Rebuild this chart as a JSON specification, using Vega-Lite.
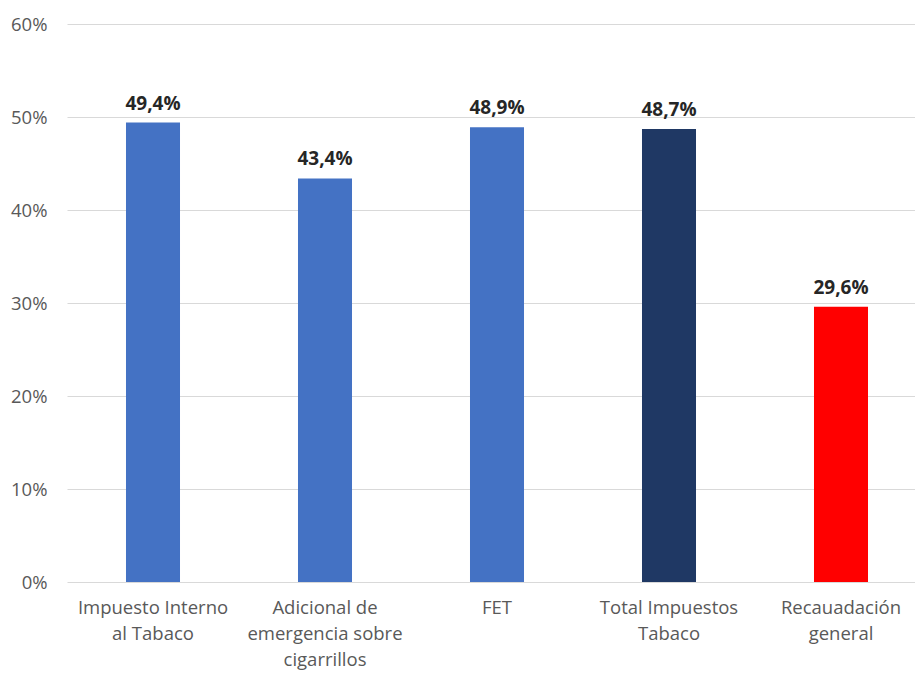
{
  "$schema": "https://vega.github.io/schema/vega-lite/v6.json",
  "width": 860,
  "height": 558,
  "autosize": "none",
  "padding": {"left": 67, "top": 24, "right": 0, "bottom": 91},
  "background": "white",
  "config": {
    "view": {"stroke": null},
    "locale": {"number": {"decimal": ",", "thousands": ".", "grouping": [3], "currency": ["", " €"]}}
  },
  "data": {
    "values": [
      {"cat": "Impuesto Interno|al Tabaco", "value": 0.494, "color": "#4472C4"},
      {"cat": "Adicional de|emergencia sobre|cigarrillos", "value": 0.434, "color": "#4472C4"},
      {"cat": "FET", "value": 0.489, "color": "#4472C4"},
      {"cat": "Total Impuestos|Tabaco", "value": 0.487, "color": "#1F3864"},
      {"cat": "Recauadación|general", "value": 0.296, "color": "#FF0000"}
    ]
  },
  "encoding": {
    "x": {
      "field": "cat", "type": "nominal", "sort": null,
      "scale": {"paddingInner": 0.686, "paddingOuter": 0.343},
      "axis": {
        "title": null, "labelAngle": 0, "domain": false, "ticks": false,
        "labelExpr": "split(datum.label, '|')",
        "labelFont": "Open Sans", "labelFontSize": 18.5, "labelColor": "#595959",
        "labelLineHeight": 26, "labelPadding": 16, "labelBaseline": "top"
      }
    },
    "y": {
      "field": "value", "type": "quantitative",
      "scale": {"domain": [0, 0.6], "nice": false},
      "axis": {
        "title": null, "format": ".0%", "values": [0, 0.1, 0.2, 0.3, 0.4, 0.5, 0.6],
        "labelOverlap": false,
        "domain": false, "ticks": false, "labelPadding": 20,
        "labelFont": "Open Sans", "labelFontSize": 18.5, "labelColor": "#595959",
        "gridColor": "#D9D9D9", "gridWidth": 1.2
      }
    }
  },
  "layer": [
    {
      "mark": {"type": "bar"},
      "encoding": {"color": {"field": "color", "type": "nominal", "scale": null}}
    },
    {
      "mark": {"type": "text", "dy": -9, "baseline": "bottom", "font": "Open Sans", "fontSize": 19, "fontWeight": "bold", "color": "#262626"},
      "encoding": {"text": {"field": "value", "type": "quantitative", "format": ".1%"}}
    }
  ]
}
